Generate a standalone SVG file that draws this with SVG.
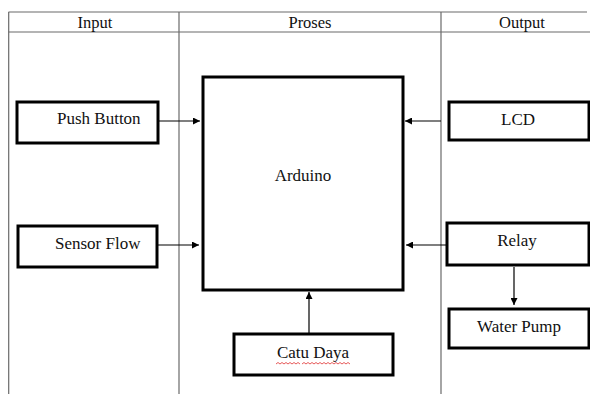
<svg xmlns="http://www.w3.org/2000/svg" width="590" height="394" viewBox="0 0 590 394">
<style>
.grid{stroke:#6a6a6a;stroke-width:1.2;fill:none}
.box{fill:#fff;stroke:#000;stroke-width:3}
text{font-family:'Liberation Serif','Tinos','DejaVu Serif',serif;fill:#111}
.t{font-size:17px}
.h{font-size:16.5px;text-anchor:middle}
.c{text-anchor:middle}
.conn line{stroke:#000;stroke-width:1.2}
</style>
<defs>
<marker id="ah" viewBox="0 0 10 10" refX="10" refY="5" markerWidth="7" markerHeight="7" markerUnits="userSpaceOnUse" orient="auto">
<path d="M0,0 L10,5 L0,10 z" fill="#000"/>
</marker>
</defs>
<rect width="590" height="394" fill="#fff"/>
<g id="table">
<line class="grid" x1="8.5" y1="12" x2="587" y2="12"/>
<line class="grid" x1="8.5" y1="32" x2="590" y2="32"/>
<line class="grid" x1="8.7" y1="12" x2="8.7" y2="394"/>
<line class="grid" x1="179" y1="12" x2="179" y2="394"/>
<line class="grid" x1="441" y1="12" x2="441" y2="394"/>
<text class="h" x="95" y="28">Input</text>
<text class="h" x="310" y="28">Proses</text>
<text class="h" x="522" y="28">Output</text>
</g>
<g class="conn" id="connectors">
<line x1="158" y1="121" x2="200" y2="121" marker-end="url(#ah)"/>
<line x1="157" y1="245" x2="199" y2="245" marker-end="url(#ah)"/>
<line x1="441" y1="121" x2="405" y2="121" marker-end="url(#ah)"/>
<line x1="446" y1="245" x2="406" y2="245" marker-end="url(#ah)"/>
<line x1="309" y1="333" x2="309" y2="292" marker-end="url(#ah)"/>
<line x1="514" y1="267" x2="514" y2="305" marker-end="url(#ah)"/>
</g>
<g id="push-button">
<rect class="box" x="17" y="102" width="141" height="41"/>
<text class="t" x="57" y="124">Push Button</text>
</g>
<g id="sensor-flow">
<rect class="box" x="18" y="226" width="139" height="41"/>
<text class="t" x="55" y="249">Sensor Flow</text>
</g>
<g id="arduino">
<rect class="box" x="203" y="77" width="200" height="213"/>
<text class="t c" x="303" y="181">Arduino</text>
</g>
<g id="catu-daya">
<rect class="box" x="234" y="334" width="159" height="41"/>
<text class="t c" x="313" y="358">Catu Daya</text>
<path d="M276,364 l2,-1.5 l2,1.5 l2,-1.5 l2,1.5 l2,-1.5 l2,1.5 l2,-1.5 l2,1.5 l2,-1.5 l2,1.5 l2,-1.5 l2,1.5 M302,364 l2,-1.5 l2,1.5 l2,-1.5 l2,1.5 l2,-1.5 l2,1.5 l2,-1.5 l2,1.5 l2,-1.5 l2,1.5 l2,-1.5 l2,1.5 l2,-1.5 l2,1.5 l2,-1.5 l2,1.5 l2,-1.5 l2,1.5 l2,-1.5 l2,1.5 l2,-1.5 l2,1.5 l2,-1.5 l2,1.5" fill="none" stroke="#e03030" stroke-width="0.8"/>
</g>
<g id="lcd">
<rect class="box" x="449" y="102" width="140" height="38"/>
<text class="t c" x="518" y="125">LCD</text>
</g>
<g id="relay">
<rect class="box" x="447" y="223" width="142" height="42"/>
<text class="t c" x="517" y="246">Relay</text>
</g>
<g id="water-pump">
<rect class="box" x="449" y="309" width="140" height="39"/>
<text class="t c" x="519" y="332">Water Pump</text>
</g>
</svg>
